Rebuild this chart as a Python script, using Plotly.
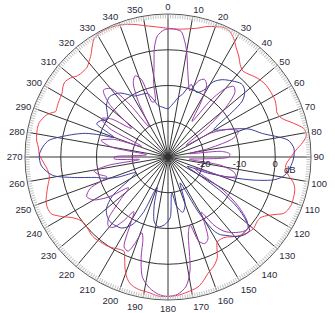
import plotly.graph_objects as go

# ---- data (angle in degrees, level in dB) ----
red_theta = [0, 5, 9, 13, 17, 20, 23, 26, 29, 32, 35, 38, 41, 44, 47, 50, 54, 58, 62, 65, 68, 71, 75, 78, 81, 84, 87, 90,
             94, 98, 102, 105, 108, 111, 114, 116, 118, 120, 123, 126, 130, 134, 137, 141, 144, 147, 150, 152, 154, 157,
             161, 164, 167, 172, 176, 180, 184, 188, 192, 195, 197, 199, 201, 203, 205, 208, 211, 215, 219, 222, 225,
             229, 232, 235, 238, 240, 242, 244, 247, 250, 253, 256, 259, 261, 264, 267, 271, 274, 277, 280, 283, 285,
             287, 289, 291, 292, 294, 296, 299, 301, 304, 306, 309, 312, 315, 318, 320, 323, 326, 328, 331, 334, 338,
             342, 346, 350, 353, 356, 360]
red_db = [6, 5.9, 6.3, 7, 8.2, 8.8, 9.4, 9.2, 7.9, 6, 4.5, 2.8, 1.9, 2.3, 3, 3.6, 4, 4, 3.9, 3.4, 2.9, 3.5, 6.4, 8.7, 9.2,
          7.8, 5.8, 4.4, 3, 3.8, 6, 6.7, 6.9, 7, 6.6, 6, 4.2, 2.6, 1, 0.8, 1.2, 0.6, -0.1, -1.3, -2.3, -2.7, -2.5, -0.8,
          1.4, 3, 4.4, 6, 7.3, 8.2, 8.8, 9, 9, 8.3, 8, 7.5, 6.8, 5.5, 3.5, 1, -0.9, -0.8, -0.3, 0.2, 0.4, 0.6, 0.5, 0,
          -0.1, 0.5, 1.9, 3.5, 5, 6.3, 6.6, 6.3, 5.5, 4.7, 3.9, 3.6, 3.9, 4.7, 6, 6.3, 7, 7.3, 7.4, 7.3, 6.7, 6, 4.7,
          3.9, 4, 4.2, 4.4, 4.6, 5.4, 5.7, 5.1, 4, 3.7, 3.8, 4.5, 5.8, 7.8, 9, 9.6, 9.7, 9.5, 9, 8.2, 7.3, 6.8, 6.4, 6]

blue_theta = [0, 4, 7, 10, 13, 16, 18, 20, 24, 28, 31, 35, 40, 45, 48, 51, 53, 55, 57, 59, 62, 66, 71, 76, 82, 86, 90,
              94, 99, 102, 105, 108, 112, 116, 120, 123, 126, 129, 132, 135, 139, 143, 146, 148, 151, 155, 160, 165,
              170, 174, 178, 183, 188, 192, 196, 200, 204, 208, 213, 218, 222, 226, 230, 235, 240, 244, 248, 251, 254,
              258, 261, 266, 271, 275, 278, 283, 286, 288, 290, 292, 295, 298, 302, 306, 310, 316, 323, 328, 331, 337,
              342, 346, 349, 354, 360]
blue_db = [-16.5, -15.5, -14.4, -13, -12, -9.8, -8.7, -9.5, -10.2, -8.9, -5.5, -3.6, -2.2, -1, -1.3, -2.5, -4, -8, -13,
           -15, -14, -10.8, -6, -2.8, 3.9, 5.3, 5.2, 4.5, 3, 0.5, -5, -11.5, -18, -24, -20, -12, -6, -2, 0.7, 0.6, -0.5,
           -2.5, -3.8, -5.5, -12, -22, -16, -14, -16, -20, -13, -11, -10.3, -11.5, -16, -21, -13, -8.5, -6.3, -5.8,
           -5.7, -6.3, -7.5, -11, -18, -20, -15, -11.7, -9.2, -2.5, 2.7, 5.5, 6, 5, 3.6, -2.3, -6, -10, -14, -12, -8,
           -8.5, -10, -9, -7.5, -6.5, -7.6, -9.5, -10.5, -11, -11.3, -13.5, -15.3, -16, -16.5]

purple_theta = [0, 3, 6, 8, 10, 13, 16, 18, 20, 22, 25, 28, 31, 34, 37, 40, 43, 46, 49, 53, 57, 61, 66, 70, 74, 78, 81,
                84, 87, 90, 93, 96, 99, 103, 106, 109, 113, 117, 121, 125, 129, 132, 135, 139, 143, 146, 149, 151, 154,
                157, 160, 162, 165, 169, 172, 176, 180, 184, 188, 192, 195, 197, 199, 201, 203, 206, 209, 212, 215, 218,
                221, 224, 228, 232, 236, 240, 244, 248, 252, 256, 259, 262, 265, 268, 270, 272, 276, 280, 284, 288, 292,
                296, 300, 304, 308, 312, 316, 320, 324, 328, 332, 335, 338, 341, 344, 347, 349, 351, 353, 355, 358, 360]
purple_db = [5.8, 5.8, 5.3, 3, 0, -5.4, -9, -10.5, -9, -7, -6, -7, -12, -18, -10, -5, -3, -4, -8, -16, -24, -16, -11,
             -9, -11, -18, -24, -15, -12.7, -13, -20, -24, -15, -11, -10.3, -13, -22, -20, -12, -6, -1.5, 0, -0.5, -2,
             -4, -7, -12, -9, -4.5, -3.7, -5, -10, -8, 2.3, 6.5, 8.5, 9, 8.5, 7, 4.4, -1, -6, -7.6, -4, -1.4, -2, -8,
             -12, -8, -5, -4.5, -6, -12, -16, -10, -6, -4.7, -6.5, -12, -10, -9, -13, -22, -15, -15, -20, -24, -14,
             -10.7, -14, -22, -12, -8.5, -11, -17, -8, -4, -5, -12, -20, -12, -7, -5.5, -7, -14, -14, -9, -5, 1, 4,
             5.5, 5.8]

angle_ticks = list(range(0, 360, 10))
angle_labels = [str(a) for a in angle_ticks]
radial_ticks = [-20, -10, 0]
radial_labels = ["-20", "-10", "0"]
r_range = [-30, 10]

W, H = 335, 313
cx, cy, R = 168, 157, 143
dom_x = [(cx - R) / W, (cx + R) / W]
dom_y = [(H - cy - R) / H, (H - cy + R) / H]

fig = go.Figure()
fig.add_trace(go.Scatterpolar(r=red_db, theta=red_theta, mode="lines", line=dict(color="#f2404c", width=1, shape="spline", smoothing=0.8), subplot="polar"))
fig.add_trace(go.Scatterpolar(r=blue_db, theta=blue_theta, mode="lines", line=dict(color="#3c3c9e", width=1, shape="spline", smoothing=0.8), subplot="polar"))
fig.add_trace(go.Scatterpolar(r=purple_db, theta=purple_theta, mode="lines", line=dict(color="#9a3cac", width=1, shape="spline", smoothing=0.8), subplot="polar"))
# minor-tick ring overlay subplot (no data)
fig.add_trace(go.Scatterpolar(r=[], theta=[], mode="lines", subplot="polar2", showlegend=False))

font_fam = "Liberation Sans, Arial, sans-serif"
fig.update_layout(
    width=W, height=H,
    margin=dict(l=0, r=0, t=0, b=0),
    paper_bgcolor="white",
    showlegend=False,
    polar=dict(
        domain=dict(x=dom_x, y=dom_y),
        bgcolor="white",
        angularaxis=dict(
            rotation=90, direction="clockwise",
            tickmode="array", tickvals=angle_ticks, ticktext=angle_labels,
            showgrid=True, gridcolor="#333333", gridwidth=0.7,
            showline=True, linecolor="#555555", linewidth=1,
            ticks="", ticklen=0, tickfont=dict(family=font_fam, size=9.5, color="#2a2a3a"),
        ),
        radialaxis=dict(
            range=r_range, tickmode="array", tickvals=radial_ticks, ticktext=radial_labels,
            angle=0, side="clockwise", showline=False,
            showgrid=True, gridcolor="#333333", gridwidth=0.7,
            ticks="", ticklen=0, tickfont=dict(family=font_fam, size=9.5, color="#2a2a3a"),
        ),
    ),
    polar2=dict(
        domain=dict(x=dom_x, y=dom_y),
        bgcolor="rgba(0,0,0,0)",
        angularaxis=dict(
            rotation=90, direction="clockwise", tickmode="linear", tick0=0, dtick=1,
            ticks="inside", ticklen=4, tickcolor="#c4c4c4", tickwidth=1,
            showticklabels=False, showgrid=False, showline=False,
        ),
        radialaxis=dict(visible=False, range=r_range),
    ),
    annotations=[dict(text="dB", x=298 / W, y=1 - 169 / H, xref="paper", yref="paper",
                      showarrow=False, font=dict(family=font_fam, size=9.5, color="#2a2a3a"))],
)

fig.write_html("out.html")
